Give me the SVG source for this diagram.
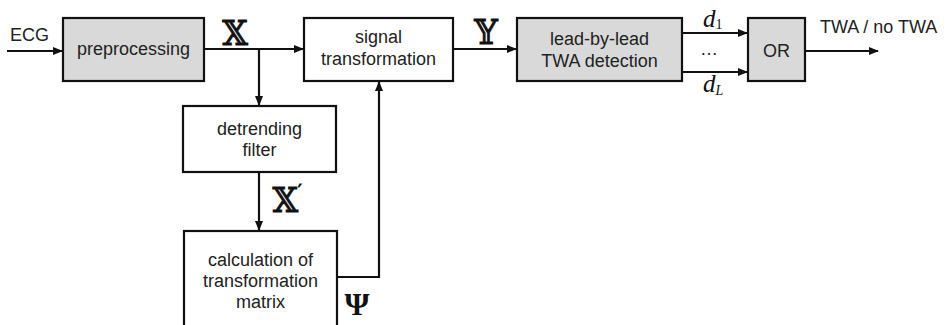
<svg xmlns="http://www.w3.org/2000/svg" width="952" height="325" viewBox="0 0 952 325">
<defs>
<marker id="ah" markerWidth="10" markerHeight="8" refX="9" refY="4" orient="auto" markerUnits="userSpaceOnUse">
<path d="M0,0 L10,4 L0,8 z" fill="#111"/>
</marker>
<style>
.box{stroke:#111;stroke-width:2.2;}
.g{fill:#d9d9d9;}
.w{fill:#fff;}
.t{font-family:"Liberation Sans",Arial,sans-serif;font-size:18px;fill:#222;text-anchor:middle;}
.m{font-family:"DejaVu Serif","Liberation Serif",serif;fill:#111;stroke:#111;stroke-width:0.8;}
.it{font-family:"Liberation Serif","Times New Roman",serif;font-style:italic;fill:#111;}
.c{fill:none;stroke:#111;stroke-width:2.2;}
</style>
</defs>
<rect width="952" height="325" fill="#fff"/>
<g id="connectors">
<line class="c" x1="7" y1="51" x2="62" y2="51" marker-end="url(#ah)"/>
<line class="c" x1="204" y1="49" x2="303" y2="49" marker-end="url(#ah)"/>
<line class="c" x1="259" y1="49" x2="259" y2="105" marker-end="url(#ah)"/>
<line class="c" x1="453" y1="49" x2="516" y2="49" marker-end="url(#ah)"/>
<line class="c" x1="682" y1="33" x2="747" y2="33" marker-end="url(#ah)"/>
<line class="c" x1="682" y1="72" x2="747" y2="72" marker-end="url(#ah)"/>
<line class="c" x1="805" y1="51" x2="878" y2="51" marker-end="url(#ah)"/>
<line class="c" x1="259" y1="172" x2="259" y2="230" marker-end="url(#ah)"/>
<polyline class="c" points="337,277 379,277 379,82" marker-end="url(#ah)"/>
<text class="t" x="10" y="41" style="text-anchor:start">ECG</text>
<text class="m" x="235" y="45" font-size="33" text-anchor="middle">𝕏</text>
<text class="m" x="486" y="44" font-size="33" text-anchor="middle">𝕐</text>
<text class="it" x="703" y="27" font-size="25">d<tspan font-size="14" font-style="normal" dy="2">1</tspan></text>
<text class="t" x="709" y="55">…</text>
<text class="it" x="703" y="92" font-size="25">d<tspan font-size="14" dy="3">L</tspan></text>
<text class="t" x="820" y="33" style="text-anchor:start">TWA / no TWA</text>
<text class="m" x="287" y="212" font-size="33" text-anchor="middle">𝕏<tspan font-size="16" dy="-16">′</tspan></text>
<text x="357" y="315" font-family="Liberation Serif,serif" font-weight="bold" font-size="32" fill="#111" text-anchor="middle">Ψ</text>
</g>
<g id="preprocessing">
<rect class="box g" x="63" y="18" width="141" height="63"/>
<text class="t" x="133.5" y="55">preprocessing</text>
</g>
<g id="signal-transformation">
<rect class="box w" x="304" y="18" width="149" height="63"/>
<text class="t" x="378.5" y="43">signal</text>
<text class="t" x="378.5" y="65">transformation</text>
</g>
<g id="lead-detection">
<rect class="box g" x="517" y="18" width="165" height="63"/>
<text class="t" x="599.5" y="45">lead-by-lead</text>
<text class="t" x="599.5" y="67">TWA detection</text>
</g>
<g id="or">
<rect class="box g" x="748" y="18" width="57" height="63"/>
<text class="t" x="776.5" y="57">OR</text>
</g>
<g id="detrending">
<rect class="box w" x="183" y="106" width="153" height="66"/>
<text class="t" x="259.5" y="135">detrending</text>
<text class="t" x="259.5" y="156">filter</text>
</g>
<g id="calculation">
<rect class="box w" x="184" y="231" width="153" height="100"/>
<text class="t" x="260.5" y="266">calculation of</text>
<text class="t" x="260.5" y="287">transformation</text>
<text class="t" x="260.5" y="308">matrix</text>
</g>
</svg>
